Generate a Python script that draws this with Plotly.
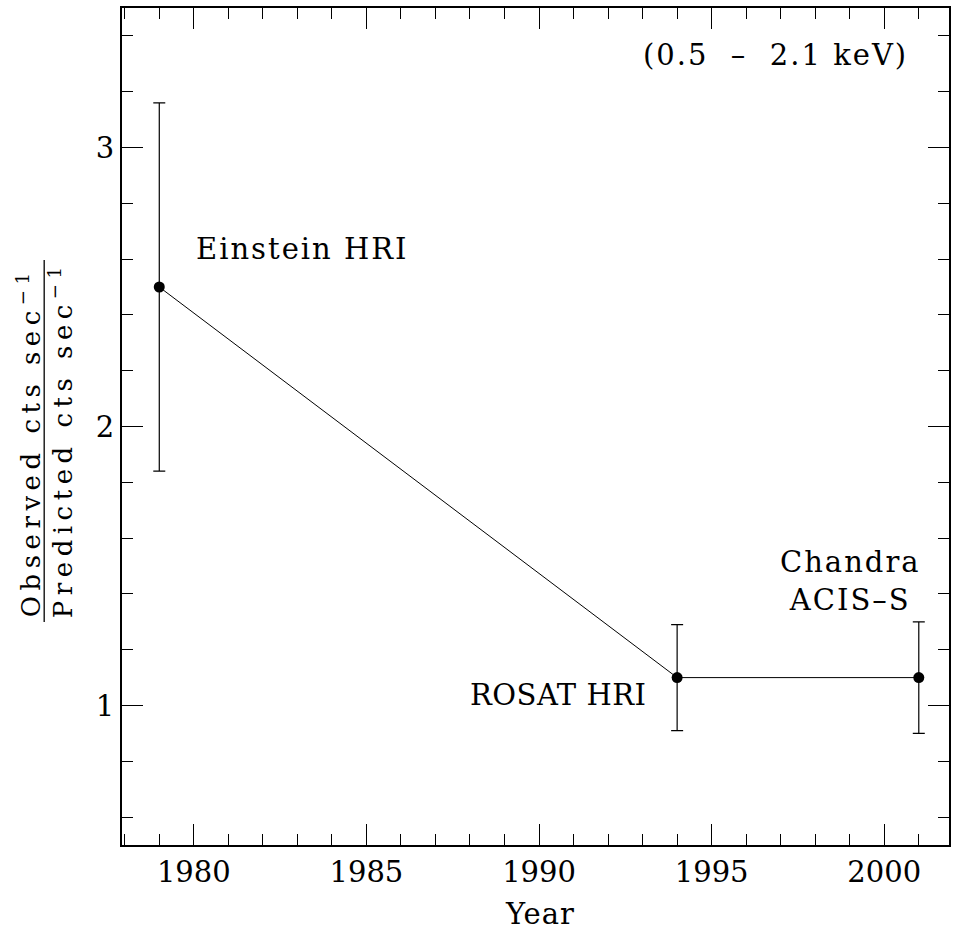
import plotly.graph_objects as go

# Data
years = [1979, 1994, 2001]
ratio = [2.5, 1.1, 1.1]
err = [0.66, 0.19, 0.20]
labels = ["Einstein HRI", "ROSAT HRI", "Chandra<br>ACIS\u2013S"]
x_ticks = [1980, 1985, 1990, 1995, 2000]
y_ticks = [1, 2, 3]

FONT = "DejaVu Serif"
FS = 29

W, H = 953, 934
L, R, T, B = 122, 2, 8, 89
PW, PH = W - L - R, H - T - B

def px(x):
    return (x - L) / PW

def py(y):
    return 1 - (y - T) / PH

def spaced(s, sp):
    return '<span style="letter-spacing:%gpx">%s</span>' % (sp, s)

fig = go.Figure()
fig.add_trace(go.Scatter(
    x=years, y=ratio, mode="lines+markers",
    line=dict(color="black", width=1),
    marker=dict(color="black", size=11),
    error_y=dict(type="data", array=err, symmetric=True,
                 color="black", thickness=1.2, width=6),
    showlegend=False, hoverinfo="skip",
))

axis_common = dict(
    showgrid=False, zeroline=False, showline=True, linecolor="black",
    linewidth=2, mirror="allticks", ticks="inside", ticklen=21,
    tickwidth=1.3, tickcolor="black",
    tickfont=dict(family=FONT, size=FS, color="black"),
)

fig.update_xaxes(range=[1977.92, 2001.875], tickvals=x_ticks,
                 ticktext=[str(v) for v in x_ticks],
                 minor=dict(dtick=1, tick0=1980, ticklen=11, ticks="inside",
                            tickwidth=1.3, tickcolor="black"),
                 **axis_common)
fig.update_yaxes(range=[0.5, 3.5], tickvals=y_ticks,
                 ticktext=[str(v) for v in y_ticks],
                 minor=dict(dtick=0.2, tick0=0, ticklen=11, ticks="inside",
                            tickwidth=1.3, tickcolor="black"),
                 **axis_common)

tf = dict(family=FONT, size=FS, color="black")
yf = dict(family=FONT, size=26, color="black")
ann = [
    dict(text=spaced("(0.5\u00a0\u00a0\u2013\u00a0\u00a02.1\u00a0keV)", 2),
         x=px(912), y=py(55), xanchor="right", yanchor="middle", font=tf),
    dict(text=spaced(labels[0], 2), x=px(194), y=py(249), xanchor="left",
         yanchor="middle", font=tf),
    dict(text=spaced(labels[1], 0.5), x=px(649), y=py(695), xanchor="right",
         yanchor="middle", font=tf),
    dict(text=spaced("Chandra", 2) + "<br>" + spaced("ACIS\u2013S", 2),
         x=px(852), y=py(581), xanchor="center", yanchor="middle", font=tf),
    dict(text=spaced("Year", 1), x=px(541), y=py(914), xanchor="center",
         yanchor="middle", font=tf),
    dict(text=spaced("Observed\u00a0cts\u00a0sec<sup>\u22121</sup>", 5.5),
         x=px(29), y=py(442), xanchor="center", yanchor="middle",
         textangle=-90, font=yf),
    dict(text=spaced("Predicted\u00a0cts\u00a0sec<sup>\u22121</sup>", 5.5),
         x=px(61), y=py(440), xanchor="center", yanchor="middle",
         textangle=-90, font=yf),
]
for a in ann:
    a.update(xref="paper", yref="paper", showarrow=False)
fig.update_layout(annotations=ann)

fig.add_shape(type="line", xref="paper", yref="paper",
              x0=px(44), x1=px(44), y0=py(260), y1=py(622),
              line=dict(color="black", width=1.3))

fig.update_layout(
    width=W, height=H, margin=dict(l=L, r=R, t=T, b=B, pad=0),
    paper_bgcolor="white", plot_bgcolor="white",
)

fig.write_html("out.html")
